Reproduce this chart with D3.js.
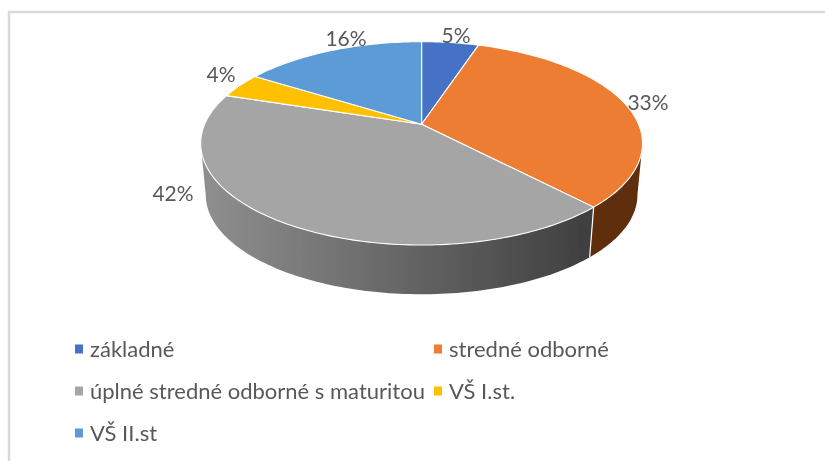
<!DOCTYPE html>
<html>
<head>
<meta charset="utf-8">
<script src="https://cdnjs.cloudflare.com/ajax/libs/d3/7.8.5/d3.min.js"></script>
<style>
  html, body { margin: 0; padding: 0; background: #fff; }
  svg { display: block; }
  text { font-family: Lato, "Open Sans", sans-serif; fill: #595959; }
</style>
</head>
<body>
<div id="chart"></div>
<script>
const categories = ["základné", "stredné odborné", "úplné stredné odborné s maturitou", "VŠ I.st.", "VŠ II.st"];
const shares = [5, 33, 42, 4, 16];
const sliceColors = ["#4472c4", "#ed7d31", "#a5a5a5", "#ffc000", "#5b9bd5"];

const width = 825, height = 461;

// perspective of the tilted disc, apex is the centre of the pie
const cfg = {
  apexX: 421.6, apexY: 124.3,
  a: 217, b: 98.1, k: 0.1874,
  depth: 52, shrink: 0.977,
  labelSize: 21, legendSize: 22
};

// angle (clockwise from 12 o'clock) to a screen point, level 0 = top face, 1 = bottom face
function project(angle, level) {
  const u = Math.sin(angle), v = -Math.cos(angle);
  const w = 1 - cfg.k * v;
  const s = level ? cfg.shrink : 1;
  return [
    cfg.apexX + s * cfg.a * u / w,
    cfg.apexY + s * cfg.b * v / w + (level ? cfg.depth : 0)
  ];
}

function arcPoints(a0, a1, level) {
  const n = Math.max(2, Math.ceil(Math.abs(a1 - a0) / 0.02));
  return d3.range(n + 1).map(i => project(a0 + (a1 - a0) * i / n, level));
}

const path = d3.line();
const color = d3.scaleOrdinal(categories, sliceColors);
const slices = d3.pie().sort(null).value(d => d.share)(
  categories.map((c, i) => ({ name: c, share: shares[i] }))
);

const svg = d3.select("#chart").append("svg")
  .attr("width", width).attr("height", height)
  .attr("viewBox", [0, 0, width, height]);

const defs = svg.append("defs");
defs.append("filter").attr("id", "soft")
  .append("feGaussianBlur").attr("stdDeviation", 0.45);

function sideGradient(id, x1, x2, c1, c2) {
  const g = defs.append("linearGradient").attr("id", id)
    .attr("gradientUnits", "userSpaceOnUse")
    .attr("x1", x1).attr("x2", x2).attr("y1", 0).attr("y2", 0);
  g.append("stop").attr("offset", 0).attr("stop-color", c1);
  g.append("stop").attr("offset", 1).attr("stop-color", c2);
}
sideGradient("sideGrey", 203, 590, "#8f8f8f", "#3f3f3f");
sideGradient("sideOrange", 588, 642, "#5e2f11", "#5e2f11");

const root = svg.append("g").attr("filter", "url(#soft)");

// chart frame, only top and left edge are inside the crop
root.append("path")
  .attr("d", path([[9, height], [9, 12], [width, 12]]))
  .attr("fill", "none").attr("stroke", "#d9d9d9").attr("stroke-width", 2.5);

// side wall, only the part of each slice that faces the viewer
const tangentR = Math.PI / 2 + 0.19, tangentL = 3 * Math.PI / 2 - 0.19;
const wall = root.append("g");
[[slices[1], "sideOrange"], [slices[2], "sideGrey"]].forEach(([d, fillId]) => {
  const a0 = Math.max(d.startAngle, tangentR), a1 = Math.min(d.endAngle, tangentL);
  const pts = arcPoints(a0, a1, 0).concat(arcPoints(a1, a0, 1));
  wall.append("path")
    .attr("d", path(pts) + "Z")
    .attr("fill", `url(#${fillId})`);
});
wall.append("path")
  .attr("d", path([project(slices[1].endAngle, 0), project(slices[1].endAngle, 1)]))
  .attr("stroke", "#fff").attr("stroke-width", 1.2).attr("fill", "none");

// top face
root.append("g").selectAll("path")
  .data(slices)
  .join("path")
  .attr("d", d => path([[cfg.apexX, cfg.apexY]].concat(arcPoints(d.startAngle, d.endAngle, 0))) + "Z")
  .attr("fill", d => color(d.data.name))
  .attr("stroke", "#fff").attr("stroke-width", 1.1).attr("stroke-linejoin", "round");

// data labels
const labelPos = [[456, 36], [648, 103], [173, 194], [221, 75], [346, 39]];
root.append("g").selectAll("text")
  .data(slices)
  .join("text")
  .attr("x", (d, i) => labelPos[i][0])
  .attr("y", (d, i) => labelPos[i][1])
  .attr("dy", "0.35em")
  .attr("text-anchor", "middle")
  .attr("font-size", cfg.labelSize)
  .text(d => d.data.share + "%");

// legend
const legendX = d3.scalePoint().domain([0, 1]).range([90, 449]);
const legendY = d3.scalePoint().domain([0, 1, 2]).range([349, 433]);
const legend = root.append("g").selectAll("g")
  .data(categories)
  .join("g")
  .attr("transform", (d, i) => `translate(${legendX(i % 2)},${legendY(Math.floor(i / 2))})`);
legend.append("rect")
  .attr("x", -15).attr("y", -4.5).attr("width", 8).attr("height", 9)
  .attr("fill", d => color(d));
legend.append("text")
  .attr("dy", "0.35em")
  .attr("font-size", cfg.legendSize)
  .text(d => d);
</script>
</body>
</html>
